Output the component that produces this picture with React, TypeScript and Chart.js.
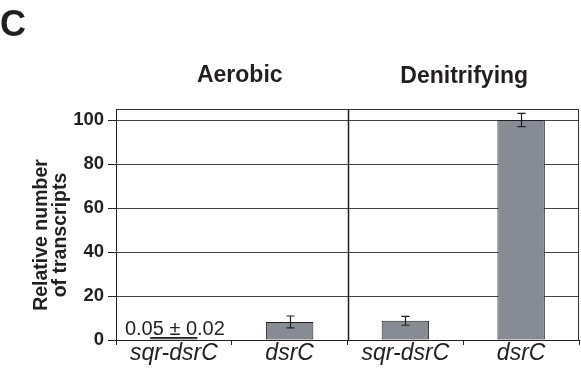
import React, { useEffect, useRef } from "react";
import { Chart, registerables } from "chart.js";

Chart.register(...registerables);

const categories = ["sqr-dsrC", "dsrC", "sqr-dsrC", "dsrC"];
const conditions = ["Aerobic", "Denitrifying"];
const values = [0.05, 8.2, 8.7, 100];
const errors = [0.02, 2.7, 2.0, 3.0];
const yTicks = [0, 20, 40, 60, 80, 100];
const annotation = "0.05 ± 0.02";
const yTitle = ["Relative number", "of transcripts"];
const panelLabel = "C";

const FONT = "'Liberation Sans', Arial, Helvetica, sans-serif";
const INK = "#231f20";

const overlay = {
  id: "overlay",
  afterDatasetsDraw(chart: any) {
    const { ctx, chartArea: a, scales } = chart;
    const x = scales.x;
    const y = scales.y;
    ctx.save();

    // error bars
    const meta = chart.getDatasetMeta(0);
    meta.data.forEach((bar: any, i: number) => {
      const top = y.getPixelForValue(values[i] + errors[i]);
      const bot = y.getPixelForValue(values[i] - errors[i]);
      if (bot - top < 2) return;
      const cx = Math.round(bar.x) + 0.5;
      ctx.strokeStyle = INK;
      ctx.lineWidth = 1.2;
      ctx.beginPath();
      ctx.moveTo(cx, top);
      ctx.lineTo(cx, bot);
      ctx.moveTo(cx - 4, top);
      ctx.lineTo(cx + 4, top);
      ctx.moveTo(cx - 4, bot);
      ctx.lineTo(cx + 4, bot);
      ctx.stroke();
    });

    // annotation above the tiny bar
    const b0 = meta.data[0];
    ctx.fillStyle = INK;
    ctx.font = `20px ${FONT}`;
    ctx.textAlign = "center";
    ctx.textBaseline = "alphabetic";
    ctx.fillText(annotation, b0.x + 1, y.getPixelForValue(0) - 5);

    // frame: top and right border
    ctx.strokeStyle = "#333";
    ctx.lineWidth = 1;
    ctx.beginPath();
    ctx.moveTo(a.left, Math.round(a.top) + 0.5);
    ctx.lineTo(a.right, Math.round(a.top) + 0.5);
    ctx.moveTo(Math.round(a.right) - 0.5, a.top);
    ctx.lineTo(Math.round(a.right) - 0.5, a.bottom);
    ctx.stroke();

    // divider between conditions
    const dx = Math.round((x.getPixelForValue(1) + x.getPixelForValue(2)) / 2) + 0.5;
    ctx.strokeStyle = INK;
    ctx.lineWidth = 1.5;
    ctx.beginPath();
    ctx.moveTo(dx, a.top);
    ctx.lineTo(dx, a.bottom);
    ctx.stroke();

    // condition titles
    ctx.fillStyle = INK;
    ctx.font = `bold 23px ${FONT}`;
    ctx.textAlign = "center";
    ctx.textBaseline = "middle";
    const c1 = (x.getPixelForValue(0) + x.getPixelForValue(1)) / 2;
    const c2 = (x.getPixelForValue(2) + x.getPixelForValue(3)) / 2;
    ctx.fillText(conditions[0], c1 + 8, 76);
    ctx.fillText(conditions[1], c2 + 1, 77);

    // panel label
    ctx.font = `bold 36px ${FONT}`;
    ctx.textAlign = "left";
    ctx.textBaseline = "alphabetic";
    ctx.fillText(panelLabel, 0, 36);

    // y axis title (two lines, rotated)
    ctx.font = `bold 19.5px ${FONT}`;
    ctx.textAlign = "center";
    ctx.textBaseline = "middle";
    ctx.translate(0, 235);
    ctx.rotate(-Math.PI / 2);
    ctx.fillText(yTitle[0], 0, 42);
    ctx.fillText(yTitle[1], 0, 61);

    ctx.restore();
  },
};

export default function App() {
  const ref = useRef<HTMLCanvasElement | null>(null);

  useEffect(() => {
    if (!ref.current) return;
    const chart = new Chart(ref.current, {
      type: "bar",
      data: {
        labels: categories,
        datasets: [
          {
            data: values,
            backgroundColor: [INK, "#878c92", "#878c92", "#878c92"],
            borderColor: INK,
            borderWidth: 1,
            borderSkipped: false,
            categoryPercentage: 1,
            barPercentage: 0.41,
            minBarLength: 3,
          },
        ],
      },
      options: {
        responsive: false,
        animation: false,
        devicePixelRatio: 1,
        layout: { padding: { top: 109, right: 2, left: 0, bottom: 0 } },
        plugins: {
          legend: { display: false },
          tooltip: { enabled: false },
          title: { display: false },
        },
        scales: {
          x: {
            type: "category",
            offset: true,
            grid: {
              display: true,
              offset: true,
              drawOnChartArea: false,
              drawTicks: true,
              tickLength: 5,
              color: INK,
              tickColor: INK,
            },
            border: { display: true, color: INK, width: 1 },
            ticks: {
              color: INK,
              font: { family: FONT, size: 23, style: "italic" },
              padding: -5,
              maxRotation: 0,
              autoSkip: false,
            },
            afterFit(scale: any) {
              scale.height = 32;
            },
          },
          y: {
            type: "linear",
            min: 0,
            max: 105,
            afterBuildTicks(scale: any) {
              scale.ticks = yTicks.map((v) => ({ value: v }));
            },
            ticks: {
              color: INK,
              font: { family: FONT, size: 18.5, weight: "bold" },
              padding: 4,
              includeBounds: false,
            },
            grid: {
              color: "#444",
              lineWidth: 1,
              drawTicks: true,
              tickLength: 8,
              tickColor: INK,
            },
            border: { display: true, color: INK, width: 1 },
            afterFit(scale: any) {
              scale.width = 116;
            },
          },
        },
      },
      plugins: [overlay],
    });
    return () => chart.destroy();
  }, []);

  return (
    <div style={{ position: "absolute", left: 0, top: 0, width: 581, height: 372, background: "#fff" }}>
      <canvas ref={ref} width={581} height={372} style={{ display: "block" }} />
    </div>
  );
}
